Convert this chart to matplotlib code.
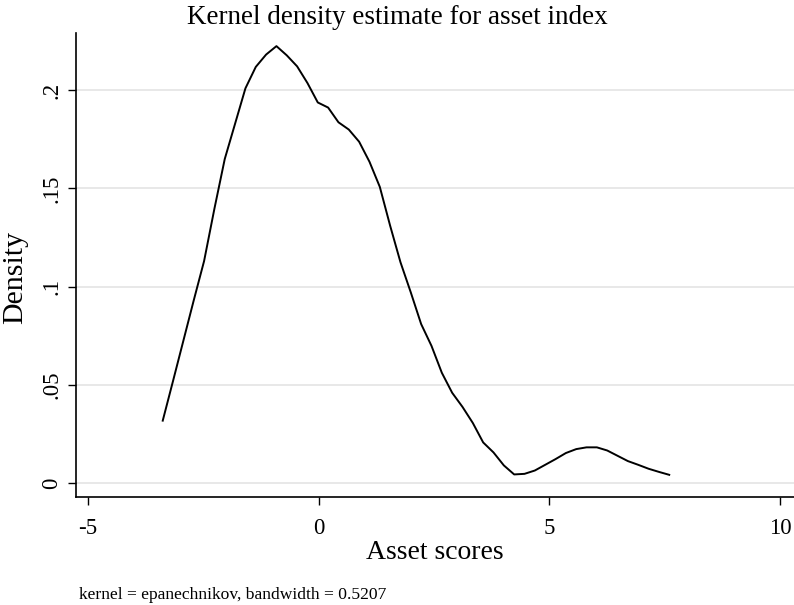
import matplotlib
matplotlib.use("Agg")
import matplotlib.pyplot as plt

# kernel density estimate of the asset index
asset_score = [-3.380, -3.156, -2.932, -2.708, -2.484, -2.260, -2.036, -1.812, -1.588, -1.364,
               -1.140, -0.916, -0.692, -0.468, -0.244, -0.020, 0.204, 0.428, 0.652, 0.876,
               1.100, 1.324, 1.548, 1.772, 1.996, 2.220, 2.444, 2.668, 2.892, 3.116,
               3.340, 3.564, 3.788, 4.012, 4.236, 4.460, 4.684, 4.908, 5.132, 5.356,
               5.580, 5.804, 6.028, 6.252, 6.476, 6.700, 6.924, 7.148, 7.372, 7.596]
density = [0.0317, 0.0520, 0.0725, 0.0930, 0.1130, 0.1397, 0.1650, 0.1830, 0.2010, 0.2119,
           0.2182, 0.2225, 0.2178, 0.2122, 0.2037, 0.1938, 0.1912, 0.1837, 0.1800, 0.1738,
           0.1636, 0.1508, 0.1310, 0.1124, 0.0970, 0.0809, 0.0698, 0.0561, 0.0459, 0.0387,
           0.0305, 0.0206, 0.0155, 0.0089, 0.0043, 0.0046, 0.0063, 0.0092, 0.0121, 0.0152,
           0.0172, 0.0181, 0.0181, 0.0165, 0.0138, 0.0111, 0.0092, 0.0072, 0.0056, 0.0041]

x_ticks = [-5, 0, 5, 10]
x_tick_labels = ["-5", "0", "5", "10"]
y_ticks = [0, 0.05, 0.1, 0.15, 0.2]
y_tick_labels = ["0", ".05", ".1", ".15", ".2"]

plt.rcParams['font.family'] = ['Liberation Serif', 'DejaVu Serif']

fig = plt.figure(figsize=(7.94, 6.05), dpi=100)
ax = fig.add_axes([0.0957, 0.1785, 0.9043, 0.767])

ax.plot(asset_score, density, color='black', linewidth=1.4)

ax.set_xlim(-5.26, 10.3)
ax.set_ylim(-0.0072, 0.2292)
ax.set_xticks(x_ticks)
ax.set_xticklabels(x_tick_labels)
ax.set_yticks(y_ticks)
ax.set_yticklabels(y_tick_labels, rotation=90, va='center')
ax.tick_params(axis='both', labelsize=16.5, length=6, width=1, direction='out')
ax.tick_params(axis='x', pad=9)
ax.tick_params(axis='y', pad=4)
ax.grid(axis='y', color='#e4e4e4', linewidth=1.2)
ax.set_axisbelow(True)

for side in ['top', 'right']:
    ax.spines[side].set_visible(False)
for side in ['left', 'bottom']:
    ax.spines[side].set_linewidth(1.2)

ax.set_xlabel("Asset scores", fontsize=20, labelpad=1)
ax.set_ylabel("Density", fontsize=21.5)
ax.yaxis.set_label_coords(-0.066, 0.474)
fig.text(0.5, 0.961, "Kernel density estimate for asset index", fontsize=19.5,
         ha='center', va='baseline')
fig.text(0.1, 0.01, "kernel = epanechnikov, bandwidth = 0.5207", fontsize=12.6)

fig.savefig("out.png", dpi=100)
